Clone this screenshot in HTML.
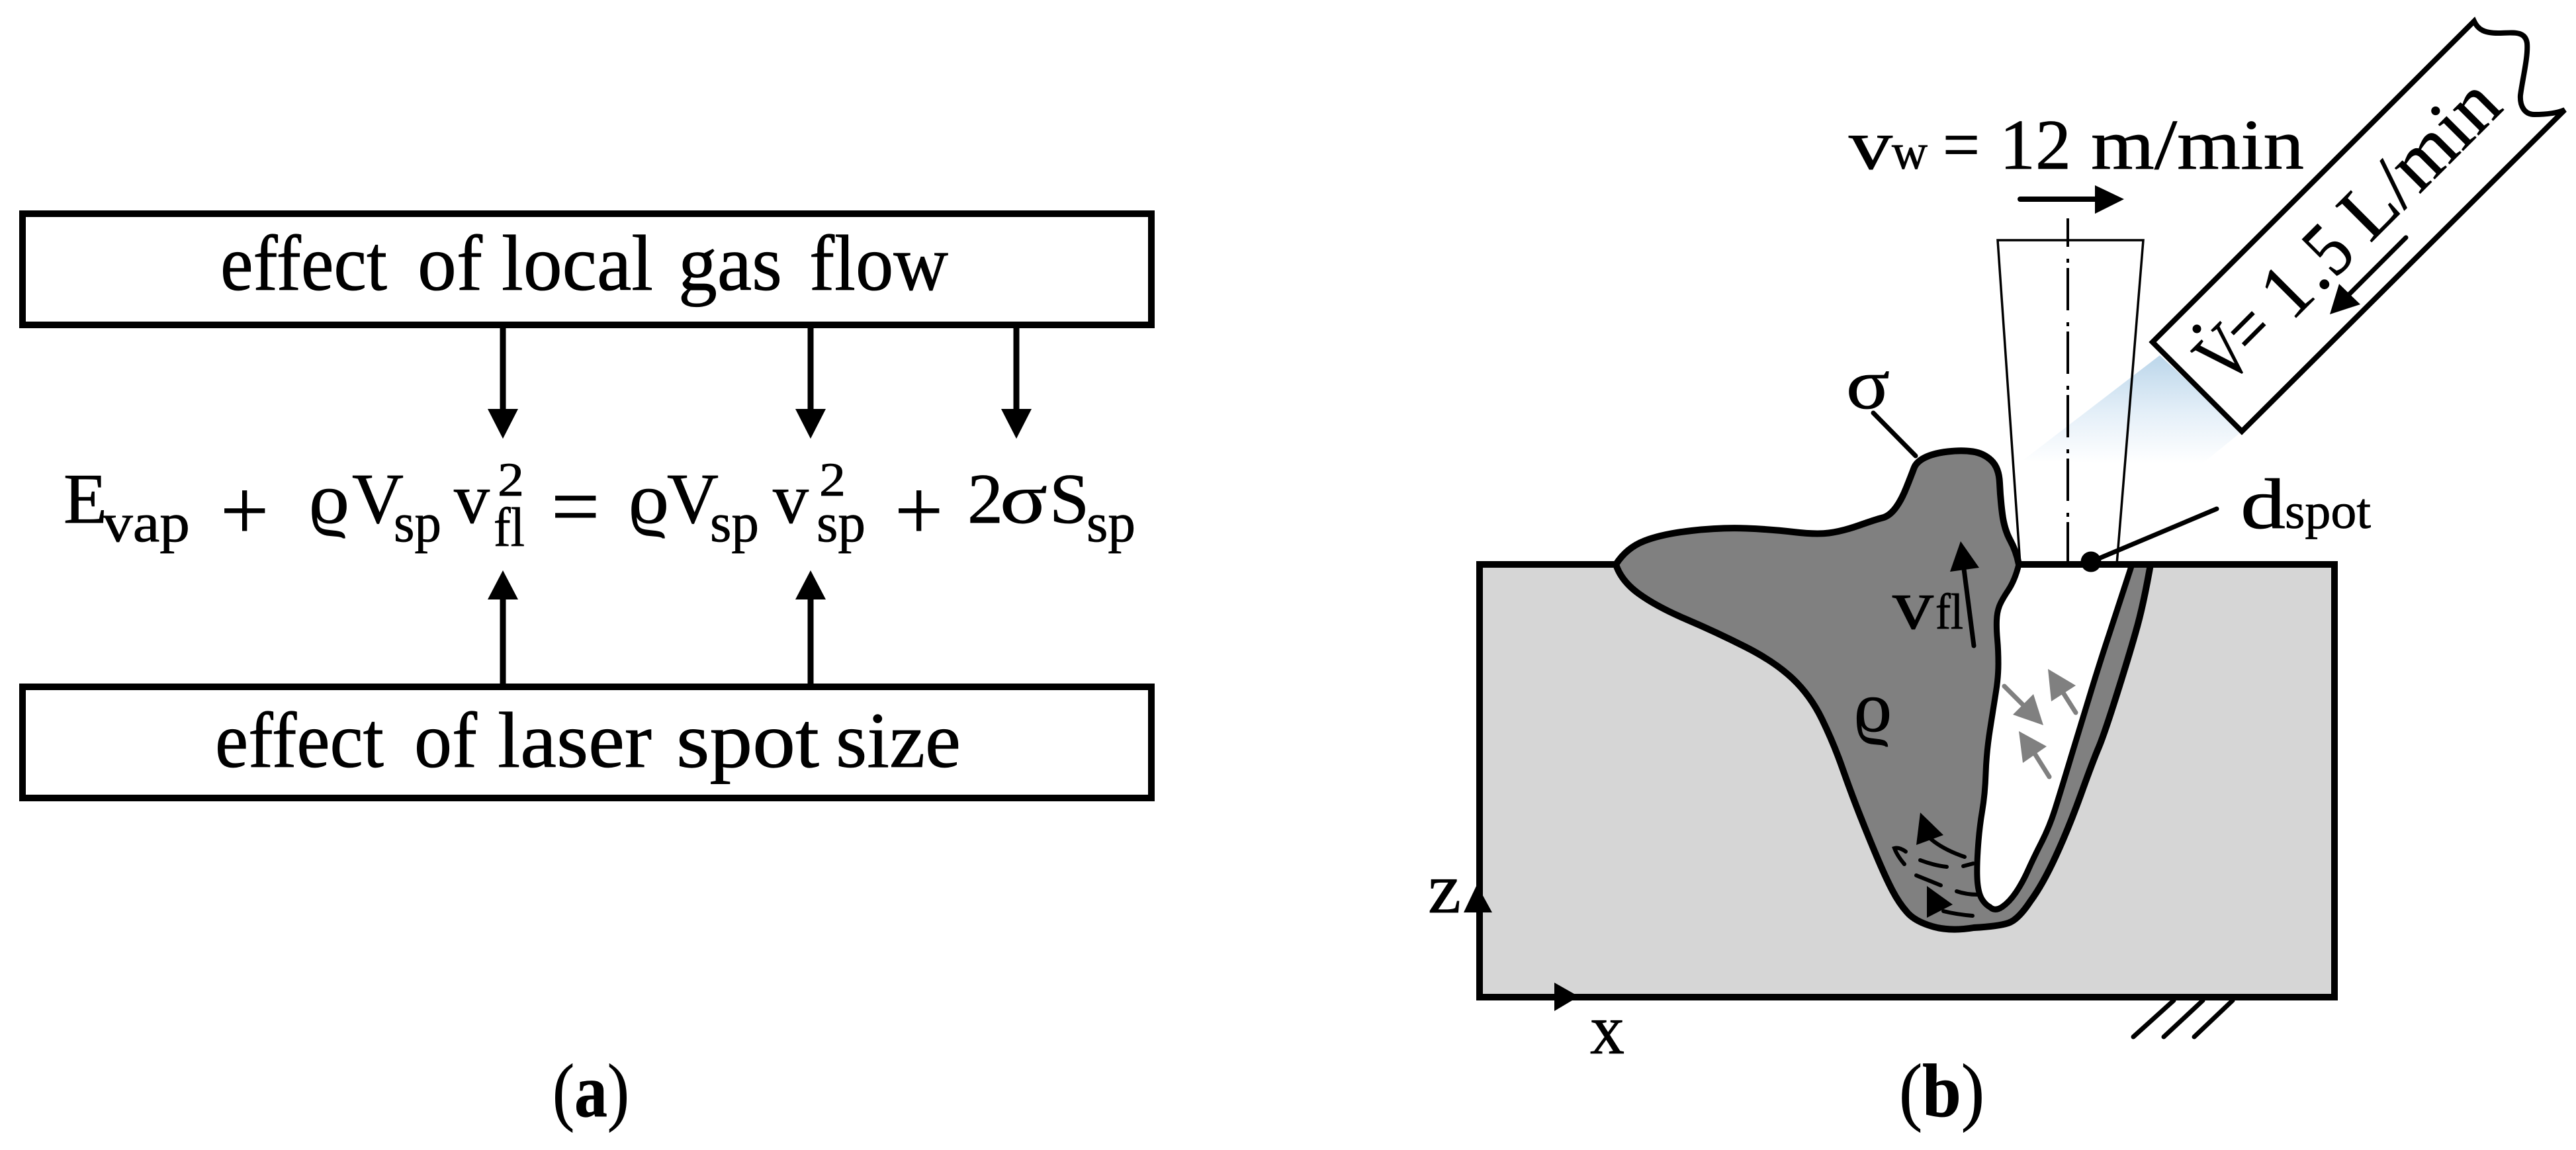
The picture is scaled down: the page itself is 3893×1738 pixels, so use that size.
<!DOCTYPE html>
<html><head><meta charset="utf-8"><style>
html,body{margin:0;padding:0;background:#fff}
svg{display:block}
text{font-family:"Liberation Serif","DejaVu Serif",serif;fill:#000;stroke:#000;stroke-width:.8px}
</style></head><body>
<svg xmlns="http://www.w3.org/2000/svg" width="3893" height="1738" viewBox="0 0 3893 1738">
<defs>
<linearGradient id="g" gradientUnits="userSpaceOnUse" x1="0" y1="530" x2="0" y2="700">
<stop offset="0" stop-color="#b8d4e9"/><stop offset="0.55" stop-color="#e4eff8"/><stop offset="1" stop-color="#ffffff"/>
</linearGradient>
</defs>
<rect width="3893" height="1738" fill="#fff"/>

<!-- panel a -->
<g fill="#fff" stroke="#000" stroke-width="10">
<rect x="34" y="323" width="1706" height="168"/>
<rect x="34" y="1038" width="1706" height="168"/>
</g>
<g font-size="120">
<text x="333" y="438" textLength="252" lengthAdjust="spacingAndGlyphs">effect</text>
<text x="631" y="438" textLength="98" lengthAdjust="spacingAndGlyphs">of</text>
<text x="758" y="438" textLength="229" lengthAdjust="spacingAndGlyphs">local</text>
<text x="1025" y="438" textLength="157" lengthAdjust="spacingAndGlyphs">gas</text>
<text x="1223" y="438" textLength="210" lengthAdjust="spacingAndGlyphs">flow</text>
<text x="325" y="1159" textLength="255" lengthAdjust="spacingAndGlyphs">effect</text>
<text x="626" y="1159" textLength="95" lengthAdjust="spacingAndGlyphs">of</text>
<text x="752" y="1159" textLength="233" lengthAdjust="spacingAndGlyphs">laser</text>
<text x="1022" y="1159" textLength="216" lengthAdjust="spacingAndGlyphs">spot</text>
<text x="1263" y="1159" textLength="189" lengthAdjust="spacingAndGlyphs">size</text>
</g>
<g stroke="#000" stroke-width="9" fill="none">
<path d="M760 491V625M1225 491V625M1536 491V625M760 900V1038M1225 900V1038"/>
</g>
<g fill="#000">
<path d="M737 618H783L760 663ZM1202 618H1248L1225 663ZM1513 618H1559L1536 663Z"/>
<path d="M737 906H783L760 862ZM1202 906H1248L1225 862Z"/>
</g>

<!-- equation -->
<g font-size="108">
<text x="96" y="790">E</text>
<text x="466" y="790" textLength="62" lengthAdjust="spacingAndGlyphs">ϱ</text>
<text x="532" y="790">V</text>
<text x="686" y="790" textLength="54" lengthAdjust="spacingAndGlyphs">v</text>
<text x="949" y="790" textLength="62" lengthAdjust="spacingAndGlyphs">ϱ</text>
<text x="1008" y="790">V</text>
<text x="1168" y="790" textLength="54" lengthAdjust="spacingAndGlyphs">v</text>
<text x="1462" y="790">2</text>
<text x="1511" y="790" textLength="72" lengthAdjust="spacingAndGlyphs">σ</text>
<text x="1586" y="790">S</text>
</g>
<g font-size="130">
<text x="333" y="815">+</text>
<text x="1352" y="815">+</text>
<text x="833" y="809">=</text>
</g>
<g font-size="84">
<text x="155" y="818" textLength="132" lengthAdjust="spacingAndGlyphs">vap</text>
<text x="595" y="818" textLength="72" lengthAdjust="spacingAndGlyphs">sp</text>
<text x="1073" y="818" textLength="74" lengthAdjust="spacingAndGlyphs">sp</text>
<text x="1234" y="818" textLength="74" lengthAdjust="spacingAndGlyphs">sp</text>
<text x="1642" y="818" textLength="74" lengthAdjust="spacingAndGlyphs">sp</text>
<text x="746" y="825" textLength="47" lengthAdjust="spacingAndGlyphs">fl</text>
</g>
<g font-size="72">
<text x="752" y="749" textLength="40" lengthAdjust="spacingAndGlyphs">2</text>
<text x="1238" y="749" textLength="40" lengthAdjust="spacingAndGlyphs">2</text>
</g>

<text x="835" y="1687" font-size="114" textLength="116" lengthAdjust="spacingAndGlyphs">(<tspan font-weight="bold">a</tspan>)</text>
<text x="2870" y="1687" font-size="114" textLength="129" lengthAdjust="spacingAndGlyphs">(<tspan font-weight="bold">b</tspan>)</text>

<!-- panel b: block -->
<rect x="2236" y="853" width="1292" height="654" fill="#d6d6d6" stroke="#000" stroke-width="10"/>

<!-- gas cone -->
<polygon points="3264,537 3388,652 3323,705 3058,695" fill="url(#g)"/>

<!-- melt pool and wall -->
<path fill="#808080" stroke="#000" stroke-width="10" stroke-linejoin="round" d="M2442 853Q2458 828 2485 817.5Q2512 807 2556.5 802Q2601 797 2639 798.5Q2677 800 2710.5 804Q2744 808 2764 805.5Q2784 803 2809.5 794Q2835 785 2845 782.5Q2855 780 2864 768.5Q2873 757 2881 737Q2889 717 2892.5 707.5Q2896 698 2909 691.5Q2922 685 2943.5 682.5Q2965 680 2981.5 682.5Q2998 685 3009.5 696Q3021 707 3022 730Q3023 753 3026 776.5Q3029 800 3038 816.5Q3047 833 3051 853L3250 853Q3240 910 3230 946.5Q3220 983 3200 1046.5Q3180 1110 3171.5 1130Q3163 1150 3145 1200Q3127 1250 3107 1293.5Q3087 1337 3068.5 1362Q3050 1390 3035 1395Q3020 1400 2983 1402Q2947 1408 2920 1400Q2893 1392 2881.5 1378Q2870 1365 2860 1346Q2850 1327 2836.5 1295Q2823 1263 2810 1230Q2797 1197 2784 1160Q2771 1123 2753.5 1087Q2736 1051 2709 1025.5Q2682 1000 2637.5 977.5Q2593 955 2548.5 936Q2504 917 2477 897.5Q2450 878 2442 853Z"/>
<!-- keyhole -->
<path fill="#fff" stroke="#000" stroke-width="9" stroke-linejoin="round" d="M3051 853Q3045 877 3035 892Q3025 907 3021.5 916Q3018 925 3017.5 937.5Q3017 950 3018.5 966.5Q3020 983 3020 1003Q3020 1023 3016.5 1045Q3013 1067 3007.5 1102Q3002 1137 3001 1168.5Q3000 1200 2995.5 1226.5Q2991 1253 2989 1285Q2987 1317 2988.5 1333.5Q2990 1350 2995 1358.5Q3000 1367 3007.5 1371Q3015 1378 3026 1370.5Q3037 1363 3047 1348Q3057 1333 3065 1315Q3073 1297 3085 1273.5Q3097 1250 3105 1225Q3113 1200 3131.5 1138.5Q3150 1077 3163.5 1033.5Q3177 990 3187 960Q3197 930 3222 853Z"/>
<path d="M2236 853H2442M3046 853H3528" stroke="#000" stroke-width="10" fill="none"/>

<!-- nozzle -->
<path d="M3053 853L3019 363H3239L3199 853" fill="none" stroke="#000" stroke-width="3.5"/>
<path d="M3125 330V849" fill="none" stroke="#000" stroke-width="4" stroke-dasharray="64 18 6 8" stroke-dashoffset="21"/>

<!-- gas tube -->
<path fill="#fff" stroke="#000" stroke-width="8" stroke-linejoin="miter" d="M3739 32C3745 45 3755 50 3775 50C3795 50 3816 45 3819 65C3821 85 3812 120 3809 144C3808 160 3815 173 3830 173C3845 173 3862 172 3876 166L3388 652L3253 517Z"/>
<g transform="translate(3364,586) rotate(-45)" font-size="118">
<text x="0" y="0" textLength="66" lengthAdjust="spacingAndGlyphs">V</text>
<text x="60" y="0" textLength="54" lengthAdjust="spacingAndGlyphs">=</text>
<text x="140" y="0" textLength="56" lengthAdjust="spacingAndGlyphs">1</text>
<text x="201" y="0">.</text>
<text x="232" y="0" textLength="50" lengthAdjust="spacingAndGlyphs">5</text>
<text x="308" y="0" textLength="288" lengthAdjust="spacingAndGlyphs">L/min</text>
</g>
<circle cx="3320" cy="497" r="6.5" fill="#000"/>
<path d="M3636 359L3550 445" stroke="#000" stroke-width="7" stroke-linecap="round"/>
<polygon points="3521,475 3535,429 3567,460" fill="#000"/>

<!-- top label -->
<g font-size="108">
<text x="2794" y="255" textLength="66" lengthAdjust="spacingAndGlyphs">v</text>
<text x="2936" y="255" textLength="56" lengthAdjust="spacingAndGlyphs">=</text>
<text x="3022" y="255" textLength="108" lengthAdjust="spacingAndGlyphs">12</text>
<text x="3160" y="255" textLength="322" lengthAdjust="spacingAndGlyphs">m/min</text>
<text x="3386" y="798" textLength="68" lengthAdjust="spacingAndGlyphs">d</text>
<text x="2790" y="617" textLength="66" lengthAdjust="spacingAndGlyphs">σ</text>
<text x="2860" y="950" textLength="62" lengthAdjust="spacingAndGlyphs">v</text>
<text x="2801" y="1105" textLength="58" lengthAdjust="spacingAndGlyphs">ϱ</text>
<text x="2158" y="1379" textLength="50" lengthAdjust="spacingAndGlyphs">z</text>
<text x="2403" y="1592" textLength="52" lengthAdjust="spacingAndGlyphs">x</text>
</g>
<g font-size="76">
<text x="2859" y="255" textLength="54" lengthAdjust="spacingAndGlyphs">w</text>
<text x="3453" y="798" textLength="130" lengthAdjust="spacingAndGlyphs">spot</text>
<text x="2925" y="950" textLength="42" lengthAdjust="spacingAndGlyphs">fl</text>
</g>
<path d="M3053 301H3175" stroke="#000" stroke-width="8" stroke-linecap="round"/>
<polygon points="3166,280 3210,301 3166,323" fill="#000"/>

<!-- sigma leader, dot, vfl arrow -->
<path d="M2831 624L2895 689M3160 849L3350 769" stroke="#000" stroke-width="7" stroke-linecap="round"/>
<circle cx="3160" cy="849" r="15.5" fill="#000"/>
<path d="M2983 976L2968 860" stroke="#000" stroke-width="7" stroke-linecap="round"/>
<polygon points="2963,818 2991,858 2947,864" fill="#000"/>

<!-- grey arrows -->
<g stroke="#808080" stroke-width="7" stroke-linecap="round" fill="none">
<path d="M3029 1037L3060 1068M3137 1077L3118 1047M3097 1174L3075 1139"/>
</g>
<g fill="#808080">
<polygon points="3088,1096 3073,1049 3042,1080"/>
<polygon points="3095,1011 3137,1036 3100,1060"/>
<polygon points="3051,1105 3093,1128 3057,1153"/>
</g>

<!-- bottom swirl -->
<g stroke="#000" stroke-width="6" stroke-linecap="round" fill="none">
<path d="M2969 1295Q2937 1284 2918 1268"/>
<path d="M2878 1306Q2867 1293 2863 1282Q2870 1280 2880 1287"/>
<path d="M2902 1300Q2923 1308 2942 1310"/>
<path d="M2967 1309L2982 1305"/>
<path d="M2896 1323L2933 1338"/>
<path d="M2957 1347Q2972 1352 2988 1352"/>
<path d="M2981 1384Q2957 1382 2937 1377"/>
</g>
<g fill="#000">
<polygon points="2902,1228 2937,1262 2896,1277"/>
<polygon points="2912,1339 2951,1367 2912,1387"/>
</g>

<!-- axes -->
<polygon points="2232,1337 2255,1379 2212,1379" fill="#000"/>
<polygon points="2349,1485 2386,1506 2349,1528" fill="#000"/>
<path d="M3285 1512L3224 1567M3329 1512L3270 1567M3374 1512L3316 1567" stroke="#000" stroke-width="7" stroke-linecap="round"/>
</svg>
</body></html>
